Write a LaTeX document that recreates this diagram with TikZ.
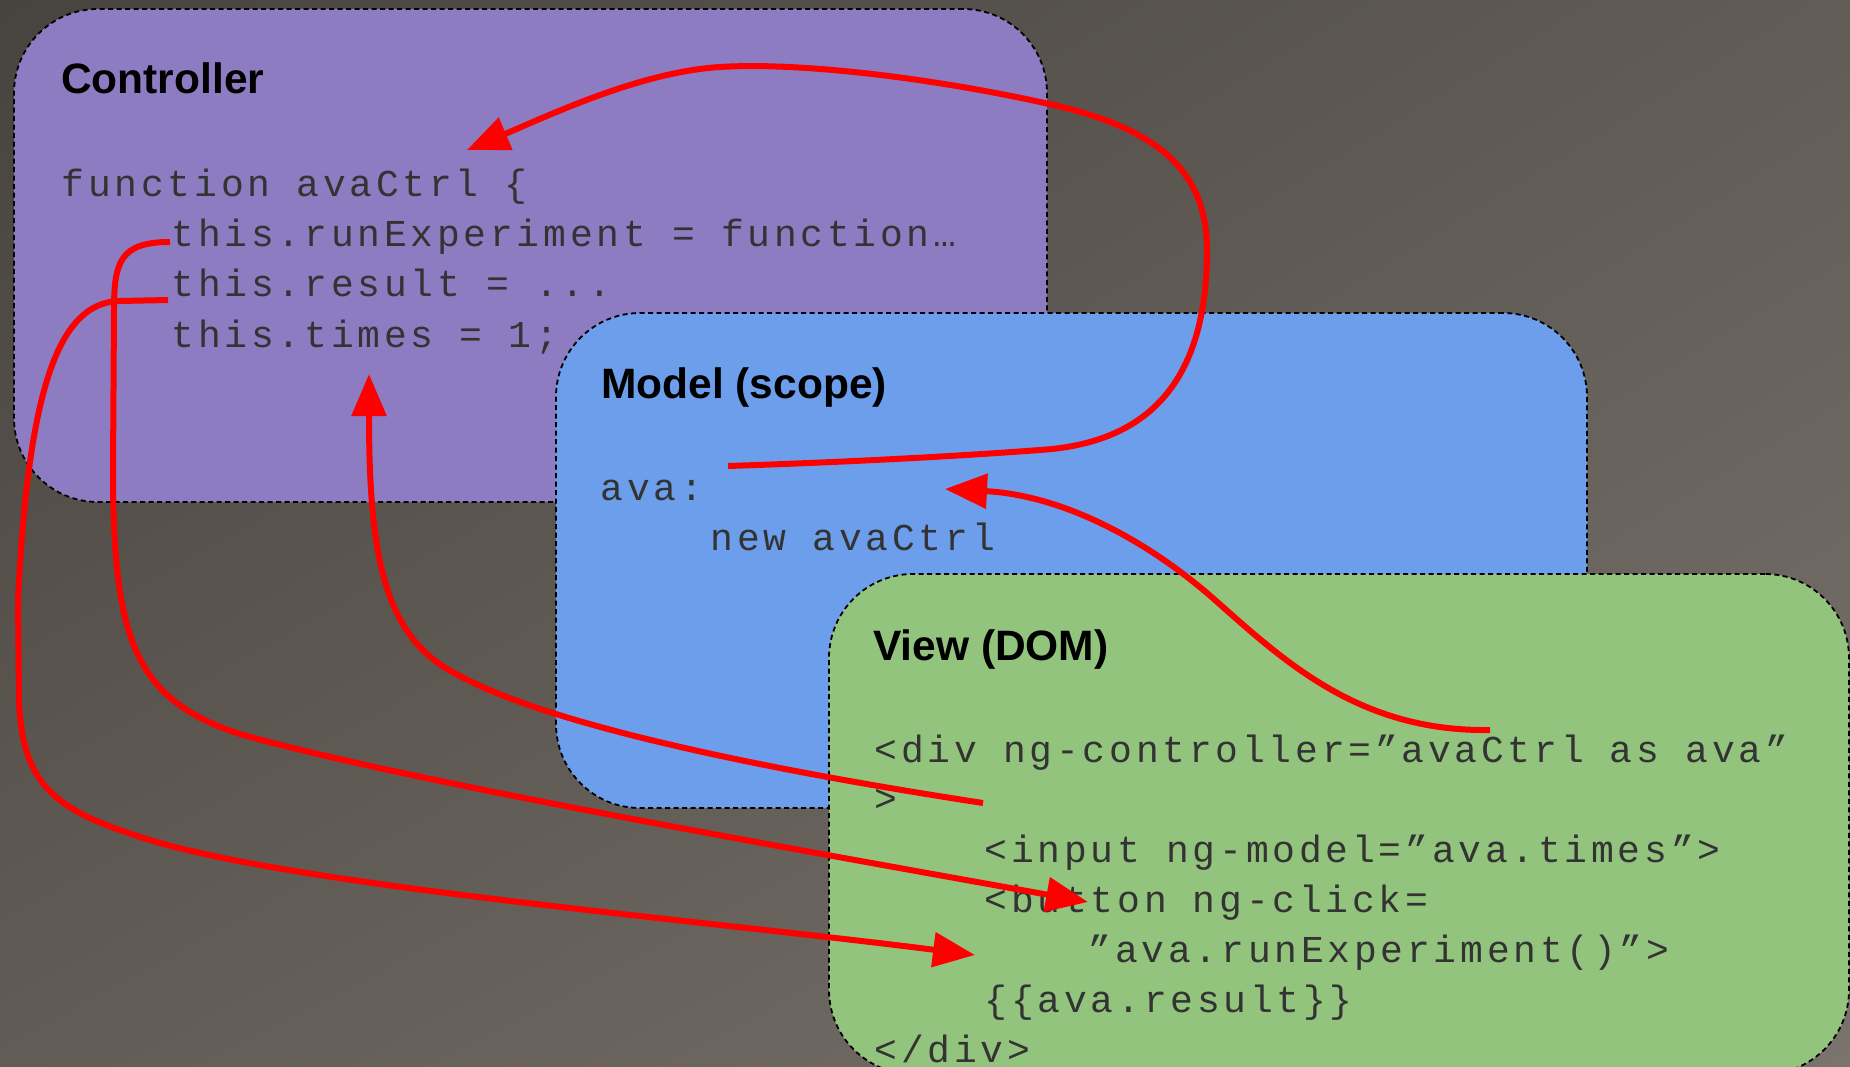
\documentclass[tikz,border=0pt]{standalone}
\usepackage{fontspec}
\setmainfont{Liberation Sans}
\newfontfamily\codefont[LetterSpace=9.9]{Liberation Mono}
\usetikzlibrary{arrows.meta,shadings}

% code lines: small Courier-like glyphs on a 26.1pt character pitch
\newcommand\codeset{\codefont\fontsize{38}{50}\selectfont\setlength{\spaceskip}{26.1pt}}

\definecolor{ctlfill}{HTML}{8E7CC3}
\definecolor{mdlfill}{HTML}{6D9EEB}
\definecolor{viewfill}{HTML}{93C47D}
\definecolor{codegray}{HTML}{333333}
\definecolor{linkred}{HTML}{FF0000}
\definecolor{bgTL}{HTML}{47433E}
\definecolor{bgTR}{HTML}{615C56}
\definecolor{bgBL}{HTML}{625C56}
\definecolor{bgBR}{HTML}{7A736E}

\begin{document}
\begin{tikzpicture}[x=1pt,y=-1pt,
  panel/.style={draw=black, line width=1.8pt, dash pattern=on 5pt off 3.5pt,
    rounded corners=84pt, inner sep=0pt},
  title/.style={anchor=base west, inner sep=0pt,
    font=\fontsize{42.5}{48}\selectfont\bfseries},
  code/.style={anchor=base west, inner sep=0pt, text=codegray, font=\codeset},
  link/.style={draw=linkred, line width=6pt,
    -{Triangle[length=42pt,width=34pt]}}]

% canvas
\useasboundingbox (0,0) rectangle (1850,1067);
\clip (0,0) rectangle (1850,1067);
\shade[upper left=bgTL, upper right=bgTR, lower left=bgBL, lower right=bgBR]
  (0,0) rectangle (1850,1067);

% controller panel
\node[panel, fill=ctlfill, minimum width=1033pt, minimum height=493pt] (ctl) at (530.5,255.5) {};
\node[title] (ctlTitle) at (61,94) {Controller};
\node[code] (ctlFn)    at (61.5,197)  {function avaCtrl \{};
\node[code] (ctlRun)   at (171.5,247) {this.runExperiment = function…};
\node[code] (ctlRes)   at (171.5,297) {this.result = ...};
\node[code] (ctlTimes) at (171.5,347) {this.times = 1;};

% model panel
\node[panel, fill=mdlfill, minimum width=1031pt, minimum height=495pt] (mdl) at (1071.5,560.5) {};
\node[title] (mdlTitle) at (601,398) {Model (scope)};
\node[code] (mdlAva) at (600.5,500) {ava:};
\node[code] (mdlNew) at (710.5,550) {new avaCtrl};

% view panel
\node[panel, fill=viewfill, minimum width=1020pt, minimum height=500pt] (view) at (1339,824) {};
\node[title] (viewTitle) at (873,660) {View (DOM)};
\node[code] (vDiv)    at (874.5,762)  {<div ng-controller=”avaCtrl as ava”};
\node[code] (vClose)  at (874.5,811)  {>};
\node[code] (vInput)  at (984.5,862)  {<input ng-model=”ava.times”>};
\node[code] (vButton) at (984.5,912)  {<button ng-click=};
\node[code] (vClick)  at (1088.5,962) {”ava.runExperiment()”>};
\node[code] (vResult) at (984.5,1012) {\{\{ava.result\}\}};
\node[code] (vEnd)    at (874.5,1062) {</div>};

% connector ends
\coordinate (newOut)   at (728,466);
\coordinate (fnIn)     at (467,150);
\coordinate (ctrlOut)  at (1490,730);
\coordinate (avaIn)    at (945,489);
\coordinate (divOut)   at (983,803);
\coordinate (timesIn)  at (369,374);
\coordinate (runOut)   at (170,242);
\coordinate (buttonIn) at (1088,902);
\coordinate (resOut)   at (168,300);
\coordinate (clickIn)  at (975,955);

% new avaCtrl -> function avaCtrl
\draw[link] (newOut) .. controls (850,462) and (960,456) .. (1040,450)
  .. controls (1150,443) and (1207,380) .. (1207,250)
  .. controls (1207,165) and (1150,125) .. (1040,102)
  .. controls (930,78) and (800,62) .. (720,67)
  .. controls (640,72) and (550,115) .. (fnIn);
% ng-controller -> ava
\draw[link] (ctrlOut) .. controls (1360,732) and (1285,662) .. (1215,600)
  .. controls (1145,538) and (1060,495) .. (avaIn);
% ng-model -> this.times
\draw[link] (divOut) .. controls (800,775) and (560,730) .. (460,676)
  .. controls (385,640) and (369,560) .. (timesIn);
% this.runExperiment -> button
\draw[link] (runOut) .. controls (120,242) and (114,262) .. (114,310)
  -- (113,470)
  .. controls (113,640) and (135,700) .. (240,734)
  .. controls (400,780) and (800,850) .. (buttonIn);
% this.result -> ng-click
\draw[link] (resOut) -- (120,301)
  .. controls (55,302) and (28,400) .. (18,600)
  -- (19,700)
  .. controls (22,790) and (60,812) .. (150,840)
  .. controls (300,886) and (700,920) .. (clickIn);
\end{tikzpicture}
\end{document}
